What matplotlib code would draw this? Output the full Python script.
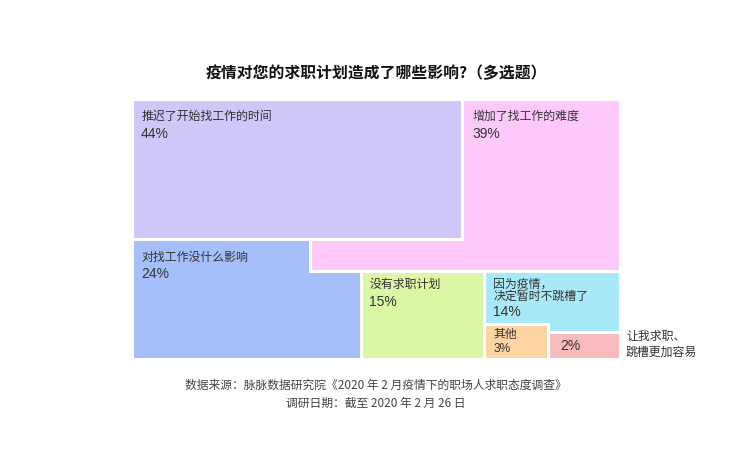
import matplotlib
matplotlib.use("Agg")
import matplotlib.pyplot as plt
from matplotlib.patches import Polygon

plt.rcParams['font.family'] = ['Noto Sans CJK SC', 'DejaVu Sans']

# ---- data ----
categories = ["推迟了开始找工作的时间", "增加了找工作的难度", "对找工作没什么影响",
              "没有求职计划", "因为疫情，\n决定暂时不跳槽了", "其他", "让我求职、\n跳槽更加容易"]
values = [44, 39, 24, 15, 14, 3, 2]
colors = ["#D1C6F8", "#FDC9FA", "#A4BFFA", "#DBF6A5", "#A8E9F9", "#FDD4A2", "#F9BBBC"]

title = "疫情对您的求职计划造成了哪些影响?（多选题）"
source_lines = ["数据来源：脉脉数据研究院《2020 年 2 月疫情下的职场人求职态度调查》",
                "调研日期：截至 2020 年 2 月 26 日"]

# ---- hand-drawn layout (pixel grid of the chart area) ----
X0, X1, Y0, Y1 = 131.5, 619.5, 98.5, 359.0
XA, XB, XC, XD, XE = 309.5, 360.5, 462.0, 484.0, 548.0
YA, YB, YC, YD = 239.0, 270.5, 323.5, 331.5
shapes = [
    [(X0, Y0), (XC, Y0), (XC, YA), (X0, YA)],
    [(XC, Y0), (X1, Y0), (X1, YB), (XA, YB), (XA, YA), (XC, YA)],
    [(X0, YA), (XA, YA), (XA, YB), (XB, YB), (XB, Y1), (X0, Y1)],
    [(XB, YB), (XD, YB), (XD, Y1), (XB, Y1)],
    [(XD, YB), (X1, YB), (X1, YD), (XE, YD), (XE, YC), (XD, YC)],
    [(XD, YC), (XE, YC), (XE, Y1), (XD, Y1)],
    [(XE, YD), (X1, YD), (X1, Y1), (XE, Y1)],
]
# label anchor (left x, first-line y) for each region
anchors = [(141.5, 116.5), (XC + 10.5, 116.5), (141.5, 257), (369.5, 284),
           (493.5, 284), (493.5, 334), None]

fig = plt.figure(figsize=(7.5, 4.72), dpi=100)
ax = fig.add_axes([0, 0, 1, 1])
ax.set_xlim(0, 750)
ax.set_ylim(472, 0)
ax.axis('off')

for poly, c in zip(shapes, colors):
    ax.add_patch(Polygon(poly, closed=True, facecolor=c, edgecolor='white', linewidth=2.2))

txt = '#333333'
pfam = ['Liberation Sans', 'DejaVu Sans']
lab_fs, pct_fs = 8.6, 10.0
line_h = 13.5
for i, (anc, cat, v) in enumerate(zip(anchors, categories, values)):
    if anc is None:
        ax.text(560, 345.5, f"{v}%", fontsize=pct_fs, family=pfam, color=txt,
                va='center', ha='left')
        ax.text(626, 344.5, cat, fontsize=lab_fs, color=txt, va='center', ha='left',
                linespacing=1.25)
        continue
    lx, y = anc
    lines = cat.split("\n")
    for k, ln in enumerate(lines):
        ax.text(lx, y, ln, fontsize=lab_fs, color=txt, va='center', ha='left')
        if k < len(lines) - 1:
            y += line_h
    if i == 5:
        ax.text(lx, y + 15, f"{v}%", fontsize=8.6, family=pfam, color=txt,
                va='center', ha='left')
    elif len(lines) > 1:
        ax.text(lx, y + 14, f"{v}%", fontsize=pct_fs, family=pfam, color=txt,
                va='center', ha='left')
    else:
        ax.text(lx - 0.5, y + 17.5, f"{v}%", fontsize=pct_fs, family=pfam, color=txt,
                va='center', ha='left')

ax.text(376, 73, title, fontsize=11.4, fontweight='bold', color='#111111',
        ha='center', va='center')
ax.text(376, 385.5, source_lines[0], fontsize=8.5, color='#444444', ha='center', va='center')
ax.text(376, 403.5, source_lines[1], fontsize=8.5, color='#444444', ha='center', va='center')

fig.savefig("out.png", dpi=100, facecolor='white')
